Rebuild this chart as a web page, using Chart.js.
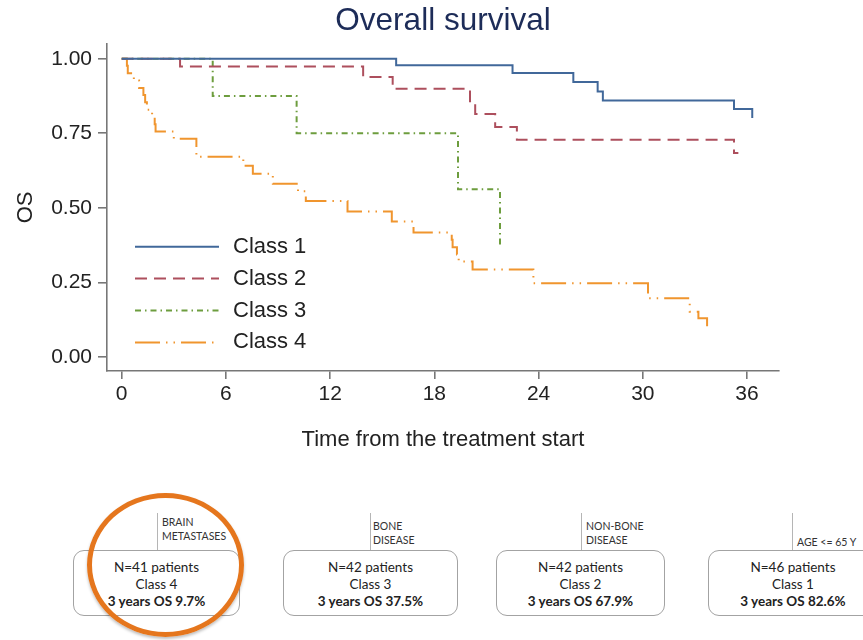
<!DOCTYPE html>
<html>
<head>
<meta charset="utf-8">
<title>Overall survival</title>
<script src="https://cdn.jsdelivr.net/npm/chart.js@4.4.1/dist/chart.umd.min.js"></script>
<style>
    html, body { margin: 0; padding: 0; overflow: hidden; background: #fff; }
    #wrap { position: relative; width: 863px; height: 640px; overflow: hidden; }
    #chart { position: absolute; left: 0; top: 0; }
    .node {
        position: absolute; top: 550px; height: 66px; box-sizing: border-box;
        border: 1.5px solid #a3a3a3; border-radius: 11px; background: #fff;
        font-family: Lato, 'Open Sans', sans-serif; font-size: 13.5px; color: #222;
        text-align: center; line-height: 17px; padding-top: 8px;
    }
    .node b { font-weight: 700; }
    .stem { position: absolute; top: 513px; height: 37px; width: 0; border-left: 1.2px solid #b5b5b5; }
    .cond {
        position: absolute; font-family: Lato, 'Open Sans', sans-serif; font-size: 10.5px;
        color: #333; line-height: 13.5px;
    }
    #ring {
        position: absolute; left: 87px; top: 493px; width: 157px; height: 144px;
        box-sizing: border-box; border: 5px solid #e5761d; border-radius: 50%;
        box-shadow: 0 2px 3px rgba(0,0,0,0.25);
    }
</style>
</head>
<body>
<div id="wrap">
    <canvas id="chart" width="886" height="470"></canvas>

    <div class="stem" style="left:157px"></div>
    <div class="cond" style="left:162px; top:516px">BRAIN<br>METASTASES</div>
    <div class="node" style="left:73px; width:167px">N=41 patients<br>Class 4<br><b>3 years OS 9.7%</b></div>

    <div class="stem" style="left:370px"></div>
    <div class="cond" style="left:373px; top:520px">BONE<br>DISEASE</div>
    <div class="node" style="left:283px; width:175px">N=42 patients<br>Class 3<br><b>3 years OS 37.5%</b></div>

    <div class="stem" style="left:581px"></div>
    <div class="cond" style="left:586px; top:520px">NON-BONE<br>DISEASE</div>
    <div class="node" style="left:496px; width:169px">N=42 patients<br>Class 2<br><b>3 years OS 67.9%</b></div>

    <div class="stem" style="left:792px"></div>
    <div class="cond" style="left:797px; top:536px">AGE &lt;= 65 Y</div>
    <div class="node" style="left:708px; width:170px">N=46 patients<br>Class 1<br><b>3 years OS 82.6%</b></div>

    <div id="ring"></div>
</div>

<script>
// Kaplan-Meier steps (months, survival)
const classLabels = ['Class 1', 'Class 2', 'Class 3', 'Class 4'];

const class1Time = [0, 15.8, 22.5, 26.0, 27.4, 27.7, 35.25, 36.3];
const class1Surv = [1, 0.978, 0.952, 0.922, 0.890, 0.860, 0.831, 0.801];

const class2Time = [0, 3.36, 13.9, 15.6, 20.05, 20.35, 21.5, 22.75, 35.25, 35.5];
const class2Surv = [1, 0.974, 0.939, 0.899, 0.857, 0.815, 0.771, 0.728, 0.684, 0.684];

const class3Time = [0, 5.24, 10.07, 19.36, 21.78];
const class3Surv = [1, 0.875, 0.75, 0.5625, 0.375];

const class4Time = [0, 0.3, 0.35, 0.7, 1.0, 1.25, 1.35, 1.45, 1.75, 1.9, 1.95,
    3.0, 4.3, 7.0, 7.55, 8.7, 10.15, 10.6, 13.0, 15.55, 16.8,
    19.0, 19.05, 19.3, 19.4, 20.2, 23.7, 30.3, 32.7, 33.2, 33.7];
const class4Surv = [1, 0.976, 0.951, 0.927, 0.902, 0.878, 0.854, 0.829, 0.805, 0.780, 0.756,
    0.732, 0.671, 0.641, 0.614, 0.581, 0.556, 0.523, 0.488, 0.454, 0.417,
    0.393, 0.368, 0.344, 0.320, 0.293, 0.247, 0.197, 0.152, 0.130, 0.097];

const xTicks = [0, 6, 12, 18, 24, 30, 36];
const yTicks = [0, 0.25, 0.5, 0.75, 1];

function toPoints(times, surv) {
    return times.map((t, i) => ({ x: t, y: surv[i] }));
}

Chart.defaults.font.family = "'Liberation Sans', Arial, sans-serif";
Chart.defaults.color = '#222';

// legend drawn inside the plot, bottom-left
const insideLegend = {
    id: 'insideLegend',
    afterDatasetsDraw(chart, args, opts) {
        const { ctx, chartArea } = chart;
        ctx.save();
        chart.data.datasets.forEach((ds, i) => {
            const y = chartArea.bottom + opts.offsetY + i * opts.rowGap;
            const x0 = chartArea.left + opts.offsetX;
            ctx.beginPath();
            ctx.setLineDash(ds.borderDash || []);
            ctx.strokeStyle = ds.borderColor;
            ctx.lineWidth = ds.borderWidth;
            ctx.moveTo(x0, y);
            ctx.lineTo(x0 + opts.lineLength, y);
            ctx.stroke();
            ctx.setLineDash([]);
            ctx.fillStyle = opts.color;
            ctx.font = opts.font;
            ctx.textBaseline = 'middle';
            ctx.fillText(ds.label, x0 + opts.lineLength + opts.textGap, y);
        });
        ctx.restore();
    }
};

const ctx = document.getElementById('chart').getContext('2d');
const survivalChart = new Chart(ctx, {
    type: 'line',
    data: {
        datasets: [
            {
                label: classLabels[0],
                data: toPoints(class1Time, class1Surv),
                borderColor: '#41689a',
                borderWidth: 2,
                borderDash: []
            },
            {
                label: classLabels[1],
                data: toPoints(class2Time, class2Surv),
                borderColor: '#ad4f5d',
                borderWidth: 2,
                borderDash: [12, 7]
            },
            {
                label: classLabels[2],
                data: toPoints(class3Time, class3Surv),
                borderColor: '#6d9d3e',
                borderWidth: 2,
                borderDash: [6, 4, 1.5, 4]
            },
            {
                label: classLabels[3],
                data: toPoints(class4Time, class4Surv),
                borderColor: '#f0952e',
                borderWidth: 2,
                borderDash: [25, 6, 1.5, 6, 1.5, 6]
            }
        ]
    },
    options: {
        responsive: false,
        animation: false,
        elements: {
            line: { stepped: 'before', tension: 0, fill: false, borderCapStyle: 'butt' },
            point: { radius: 0, hoverRadius: 0 }
        },
        layout: { padding: 0 },
        scales: {
            x: {
                type: 'linear',
                min: -0.846,
                max: 37.84,
                afterBuildTicks: scale => { scale.ticks = xTicks.map(v => ({ value: v })); },
                afterFit: scale => { scale.height = 99; },
                grid: { drawOnChartArea: false, drawTicks: true, tickLength: 8, color: '#777', lineWidth: 1.6 },
                border: { display: true, color: '#777', width: 1.6 },
                ticks: { font: { size: 21 }, color: '#222', padding: 3, maxRotation: 0 },
                title: {
                    display: true,
                    text: 'Time from the treatment start',
                    font: { size: 22 },
                    color: '#222',
                    padding: { top: 0, bottom: 17 }
                }
            },
            y: {
                type: 'linear',
                min: -0.047,
                max: 1.05,
                afterBuildTicks: scale => { scale.ticks = yTicks.map(v => ({ value: v })); },
                afterFit: scale => { scale.width = 107; },
                grid: { drawOnChartArea: false, drawTicks: true, tickLength: 9, color: '#777', lineWidth: 1.6 },
                border: { display: true, color: '#777', width: 1.6 },
                ticks: {
                    font: { size: 21 },
                    color: '#222',
                    padding: 6,
                    callback: v => Number(v).toFixed(2)
                },
                title: {
                    display: true,
                    text: 'OS',
                    font: { size: 22 },
                    color: '#222',
                    padding: { top: 13, bottom: 0 }
                }
            },
            // empty right-hand axis: only reserves the right margin so the title centres over the plot
            yRight: {
                position: 'right',
                min: 0,
                max: 1,
                afterFit: scale => { scale.width = 107; },
                grid: { display: false },
                border: { display: false },
                ticks: { display: false }
            }
        },
        plugins: {
            legend: { display: false },
            tooltip: { enabled: false },
            title: {
                display: true,
                text: 'Overall survival',
                color: '#1d2c58',
                font: { size: 31.5, weight: 'normal' },
                padding: { top: 2, bottom: 4 }
            },
            insideLegend: {
                offsetX: 28,
                offsetY: -124.3,
                rowGap: 31.9,
                lineLength: 84,
                textGap: 14,
                color: '#222',
                font: "22px 'Liberation Sans', Arial, sans-serif"
            }
        }
    },
    plugins: [insideLegend]
});
</script>
</body>
</html>
